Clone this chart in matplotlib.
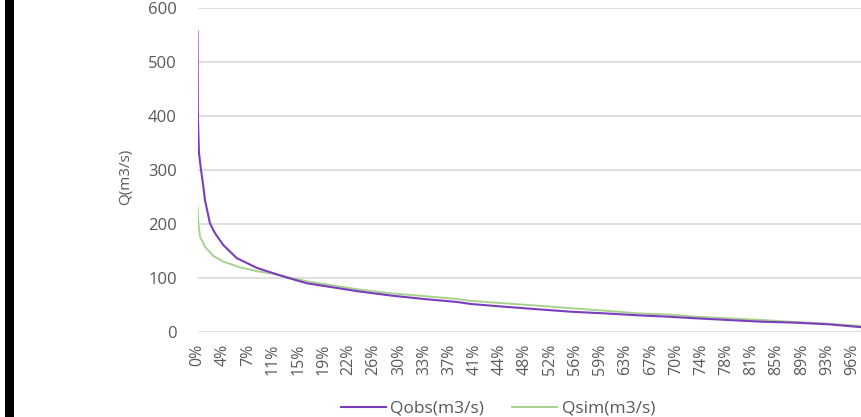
import matplotlib
matplotlib.use("Agg")
import matplotlib.pyplot as plt
from matplotlib.patches import Rectangle

# Exceedance percentage (%) and discharges (m3/s)
obs_pct = [0, 0.05, 0.22, 0.52, 0.86, 1.1, 1.6, 1.84, 2.58, 3.81, 5.78, 8.74,
           11.2, 13.2, 16.1, 23.5, 28.4, 33.3, 38.2, 40.2, 45.1, 50.1, 55.0,
           59.9, 64.8, 69.0, 73.2, 78.1, 83.0, 87.9, 92.8, 97.6]
q_obs = [556, 400, 331, 300, 269, 244, 215, 201, 183, 161, 137, 119,
         109, 101, 90.6, 76, 68, 61.5, 56, 52.3, 47.3, 42.5, 38,
         35, 31.4, 29, 25.9, 22.7, 19.6, 17.8, 14.8, 9.5]

sim_pct = [0, 0.1, 0.37, 1.1, 2.33, 3.8, 6.27, 8.74, 11.2, 13.6, 16.4, 23.5,
           28.4, 33.3, 38.2, 40.2, 45.1, 50.1, 55.0, 59.9, 64.8, 69.7, 73.2,
           78.1, 83.0, 87.9, 92.8, 97.6]
q_sim = [233, 204, 177, 158, 141, 130.5, 120, 113, 108, 101, 93.5, 79.5,
         72, 67, 61.5, 58, 53.6, 49.2, 44.4, 40, 35, 32.5, 28.8,
         25.9, 22.7, 19, 15.9, 11.8]

x_labels = ["0%", "4%", "7%", "11%", "15%", "19%", "22%", "26%", "30%", "33%",
            "37%", "41%", "44%", "48%", "52%", "56%", "59%", "63%", "67%",
            "70%", "74%", "78%", "81%", "85%", "89%", "93%", "96%"]
y_ticks = [0, 100, 200, 300, 400, 500, 600]

FONT = ["Open Sans", "DejaVu Sans"]
plt.rcParams["font.family"] = FONT

fig = plt.figure(figsize=(8.61, 4.17), dpi=100)
fig.patches.append(Rectangle((5 / 861, 0), 9 / 861, 1, transform=fig.transFigure,
                             facecolor="black", edgecolor="none", zorder=10))

ax = fig.add_axes([197.5 / 861, 84.7 / 417, 1 - 197.5 / 861, (409.4 - 84.7) / 417])
ax.plot(obs_pct, q_obs, color="#7A3DBE", lw=1.5, label="Qobs(m3/s)", zorder=3)
ax.plot(sim_pct, q_sim, color="#A9D18E", lw=1.4, label="Qsim(m3/s)", zorder=2)

ax.set_xlim(0, 97.6)
ax.set_ylim(0, 600)
ax.set_yticks(y_ticks)
ax.set_yticklabels([str(v) for v in y_ticks])
ax.set_xticks([i * 100 / 27 for i in range(len(x_labels))])
ax.set_xticklabels(x_labels, rotation=90, va="top", ha="center")

ax.grid(axis="y", color="#D9D9D9", lw=1.2)
ax.set_axisbelow(True)
for s in ax.spines.values():
    s.set_visible(False)
ax.tick_params(axis="y", length=0, pad=15, labelsize=12, labelcolor="#595959")
ax.tick_params(axis="x", length=0, pad=8, labelsize=11.5, labelcolor="#595959")

fig.text(126 / 861, 1 - 177 / 417, "Q(m3/s)", rotation=90, ha="center", va="center",
         fontsize=11, color="#595959")

fig.legend(loc="center", bbox_to_anchor=(498 / 861, 8.5 / 417), ncol=2, frameon=False,
           fontsize=12.5, handlelength=2.6, handletextpad=0.25, columnspacing=1.6,
           labelcolor="#595959")

fig.savefig("out.png", dpi=100, facecolor="white")
